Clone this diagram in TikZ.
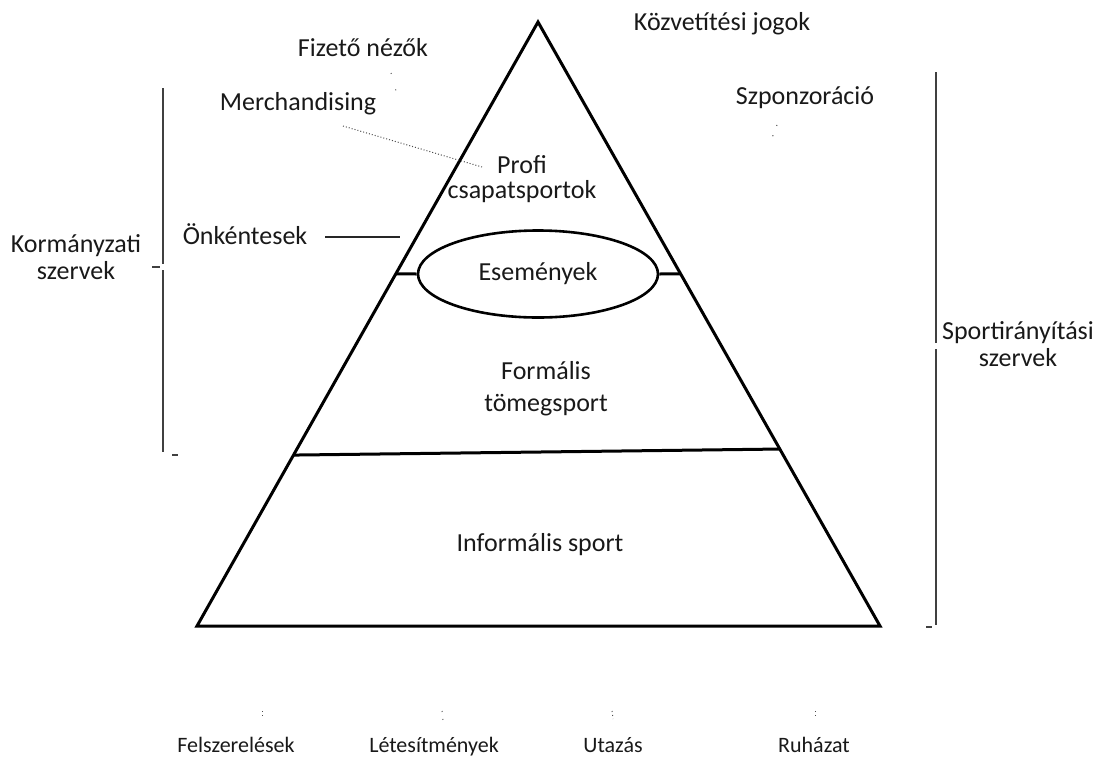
\documentclass[tikz,border=0pt]{standalone}
\usepackage{fontspec}
\setmainfont{Carlito}
\usetikzlibrary{calc,shapes.geometric}
\begin{document}
\begin{tikzpicture}[x=1pt,y=-1pt,
  lbl/.style={font=\fontsize{26}{27}\selectfont, align=center, inner sep=0pt, text=black!90},
  botlbl/.style={font=\fontsize{22}{27}\selectfont, inner sep=0pt, anchor=base, text=black!90},
  layer/.style={line width=3pt, line join=miter},
  brace/.style={line width=1.6pt, draw=black!75},
  speck/.style={black!70, dotted, line width=1pt},
]
\useasboundingbox (0,0) rectangle (1105,758);

% pyramid outline
\coordinate (apex) at (538,22);
\coordinate (bl) at (197,626);
\coordinate (br) at (880,626);
\draw[layer] (apex) -- (bl) -- (br) -- cycle;

% boundary between formal mass sport and informal sport
\coordinate (hl) at ($(apex)!0.717!(bl)$);
\coordinate (hr) at ($(apex)!0.707!(br)$);
\draw[layer] (hl) -- (hr);

% events ellipse with its two joints to the pyramid sides
\node[draw, ellipse, line width=2.6pt, minimum width=240pt, minimum height=87pt, inner sep=0pt,
      font=\fontsize{26}{27}\selectfont, text=black!90] (ev) at (538,274) {Események};
\coordinate (el) at ($(apex)!0.417!(bl)$);
\coordinate (er) at ($(apex)!0.417!(br)$);
\draw[line width=3pt] (el) -- (ev.west);
\draw[line width=3pt] (ev.east) -- (er);

% layer labels
\node[lbl, font=\fontsize{26}{25}\selectfont] (profi) at (522,179) {Profi\\csapatsportok};
\node[lbl, font=\fontsize{26}{32}\selectfont] (formal) at (546,389) {Formális\\tömegsport};
\node[lbl] (inform) at (540,545) {Informális sport};

% revenue sources around the top
\node[lbl] (fizeto) at (363,48) {Fizető nézők};
\node[lbl] (kozvet) at (722,24) {Közvetítési jogok};
\node[lbl] (merch) at (298,104) {Merchandising};
\node[lbl] (szponz) at (805,98) {Szponzoráció};
\node[lbl] (onkent) at (245,234) {Önkéntesek};

\coordinate (onk-end) at (400,237);
\draw[line width=1.5pt, black!85] (onkent.east) ++(18,3) -- (onk-end);

\coordinate (m1) at (343,126);
\coordinate (m2) at (482,167);
\draw[speck] (m1) -- (m2);
\coordinate (f1) at (391,73);
\coordinate (f2) at (396,91);
\draw[speck, dash pattern=on 1pt off 16pt] (f1) -- (f2);
\coordinate (s1) at (777,125);
\coordinate (s2) at (772,138);
\draw[speck, dash pattern=on 1pt off 10pt] (s1) -- (s2);

% governing bodies on both sides
\node[lbl] (korm) at (76,257) {Kormányzati\\szervek};
\draw[brace] (163,88) -- (163,264);
\draw[brace] (152,267) -- (160,267);
\draw[brace] (163,270) -- (163,452);
\draw[brace] (172,455) -- (178,455);

\node[lbl] (sportir) at (1018,344) {Sportirányítási\\szervek};
\draw[brace] (936,72) -- (936,343);
\draw[brace] (936,349) -- (936,625);
\draw[brace] (926,627) -- (932,627);

% supply side along the bottom
\node[botlbl] (felsz) at (236,752) {Felszerelések};
\node[botlbl] (letes) at (434,752) {Létesítmények};
\node[botlbl] (utazas) at (613,752) {Utazás};
\node[botlbl] (ruhazat) at (814,752) {Ruházat};
\draw[speck, dash pattern=on 1pt off 3pt] (262,711) -- (262,716);
\draw[speck, dash pattern=on 1pt off 7pt] (442,711) -- (443,720);
\draw[speck, dash pattern=on 1pt off 3pt] (612,711) -- (613,719);
\draw[speck, dash pattern=on 1pt off 3pt] (815,711) -- (815,716);
\end{tikzpicture}
\end{document}
